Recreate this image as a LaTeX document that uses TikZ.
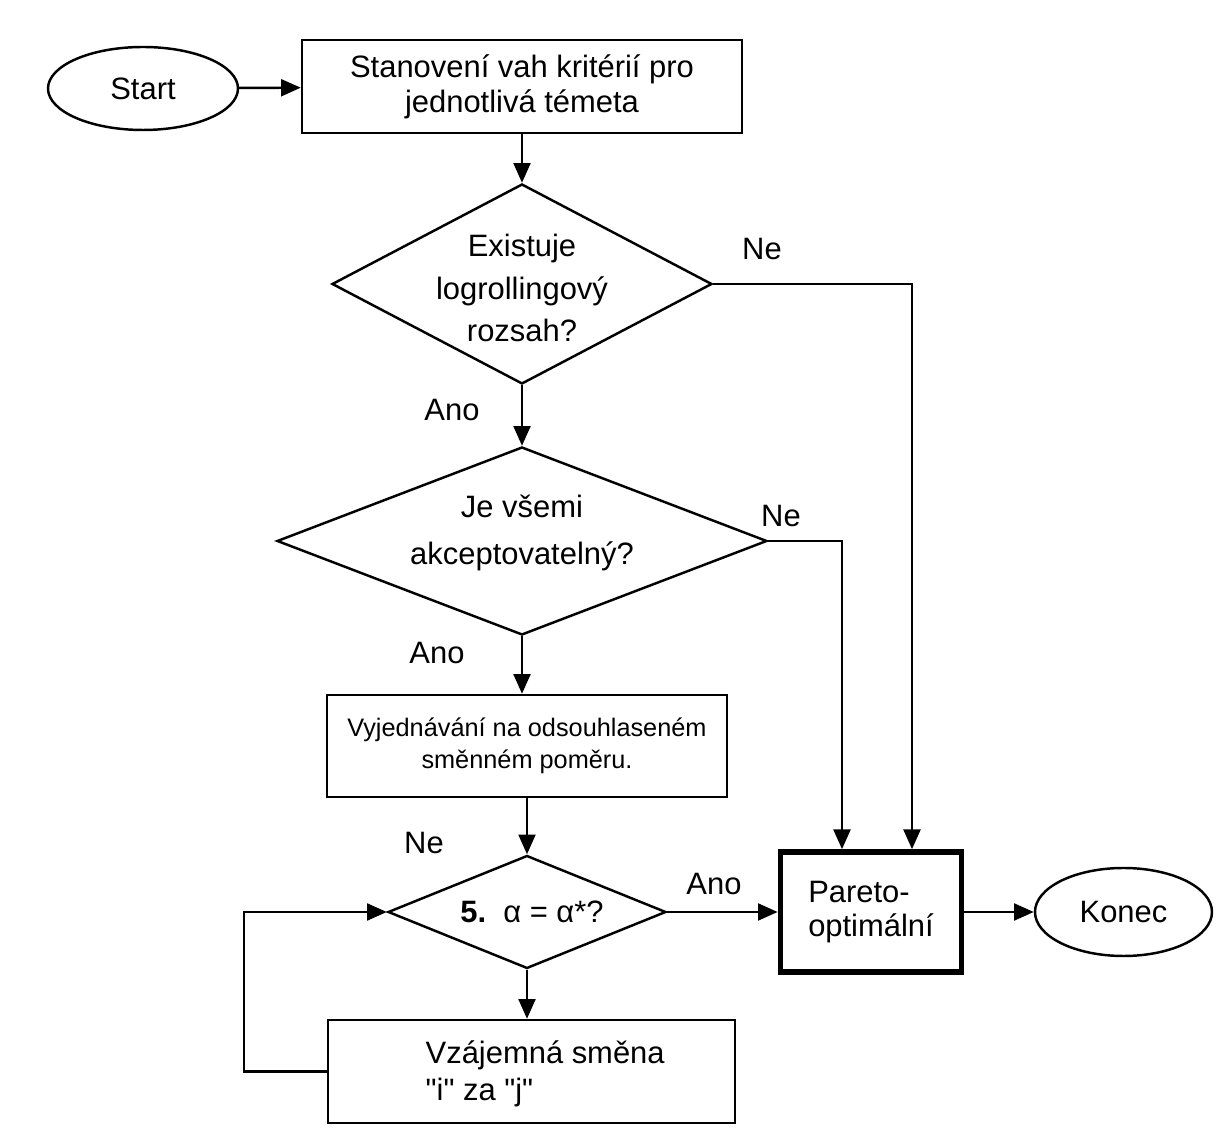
\documentclass[tikz,border=0pt]{standalone}
\usepackage{fontspec}
\setmainfont{Liberation Sans}[Ligatures=TeXOff]
\usetikzlibrary{shapes.geometric,arrows.meta,positioning}

\begin{document}
\begin{tikzpicture}[
    font=\fontsize{8.8}{10}\selectfont,
    box/.style={draw, rectangle, line width=0.7pt, inner sep=0pt},
    term/.style={draw, ellipse, line width=0.7pt, inner sep=0pt},
    decision/.style={draw, diamond, line width=0.7pt, inner sep=0pt},
    lbl/.style={inner sep=0pt},
    arr/.style={-{Triangle[length=5.6pt,width=4.8pt]}, line width=0.7pt}
  ]
      \useasboundingbox (0,0) rectangle (12.26,-11.41);
      % Start and first step
      \node[term, minimum width=1.90cm, minimum height=0.83cm] (start) at (1.43,-0.885) {Start};
      \node[box, minimum width=4.40cm, minimum height=0.93cm, align=center] (kriteria) at (5.22,-0.865)
        {Stanovení vah kritérií pro\\jednotlivá témeta};
      % Decisions
      \node[decision, minimum width=3.80cm, minimum height=2.00cm] (d1) at (5.22,-2.84) {};
      \node[lbl, align=center, font=\fontsize{8.8}{12}\selectfont] (d1text) at (5.22,-2.88)
        {Existuje\\logrollingový\\rozsah?};
      \node[decision, minimum width=4.90cm, minimum height=1.88cm] (d2) at (5.22,-5.41) {};
      \node[lbl, align=center, font=\fontsize{8.8}{13.4}\selectfont] (d2text) at (5.22,-5.33)
        {Je všemi\\akceptovatelný?};
      % Negotiation
      \node[box, minimum width=4.00cm, minimum height=1.02cm, align=center,
        font=\fontsize{7.2}{9.1}\selectfont] (vyjednavani) at (5.27,-7.46)
        {Vyjednávání na odsouhlaseném\\směnném poměru.};
      \node[decision, minimum width=2.78cm, minimum height=1.13cm] (d3) at (5.27,-9.12) {};
      \node[lbl] (d3text) at (5.32,-9.12) {\textbf{5.}\ \ α = α*?};
      % Exchange step
      \node[box, minimum width=4.07cm, minimum height=1.03cm] (smena) at (5.315,-10.715) {};
      \node[lbl, anchor=west, align=left, font=\fontsize{8.8}{10.6}\selectfont] (smenatext) at (4.25,-10.74)
        {Vzájemná směna\\"i" za "j"};
      % End
      \node[box, line width=1.6pt, minimum width=1.81cm, minimum height=1.20cm, align=left,
        font=\fontsize{8.8}{9.6}\selectfont] (pareto) at (8.71,-9.12) {Pareto-\\optimální};
      \node[term, minimum width=1.77cm, minimum height=0.88cm] (konec) at (11.235,-9.12) {Konec};
      % Connectors
      \draw[arr] (start) -- (kriteria);
      \draw[arr] (kriteria) -- (d1);
      \draw[arr] (d1) -- (d2);
      \draw[arr] (d2.south) -- (d2.south |- vyjednavani.north);
      \draw[arr] (vyjednavani) -- (d3);
      \draw[arr] (d3.south) -- (d3.south |- smena.north);
      \draw[arr] (d3) -- (pareto);
      \draw[arr] (pareto) -- (konec);
      \draw[arr] (smena.west) -- ++(-0.83,0) |- (d3.west);
      \draw[arr] (d1.east) -| ([xshift=0.41cm]pareto.north);
      \draw[arr] (d2.east) -| ([xshift=-0.29cm]pareto.north);
      % Branch labels
      \node[lbl] (ne1) at (7.62,-2.49) {Ne};
      \node[lbl] (ne2) at (7.81,-5.16) {Ne};
      \node[lbl] (ano1) at (4.52,-4.10) {Ano};
      \node[lbl] (ano2) at (4.37,-6.53) {Ano};
      \node[lbl] (ne3) at (4.24,-8.43) {Ne};
      \node[lbl] (ano3) at (7.14,-8.84) {Ano};
\end{tikzpicture}
\end{document}
